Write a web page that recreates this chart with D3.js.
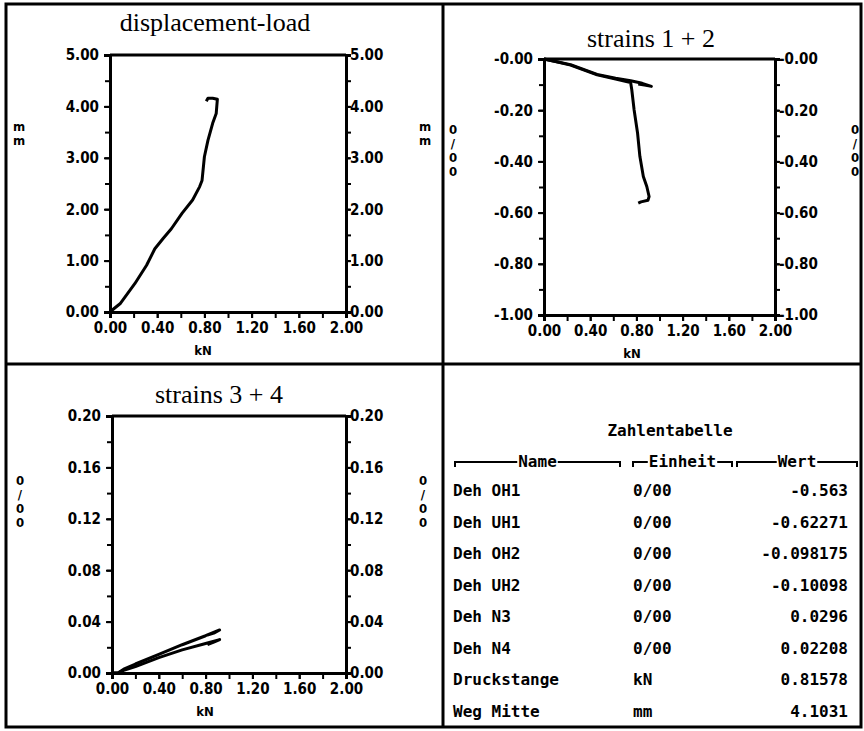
<!DOCTYPE html>
<html>
<head>
<meta charset="utf-8">
<script src="https://cdn.jsdelivr.net/npm/d3@7"></script>
<style>
  body { margin: 0; background: #fff; }
  svg { display: block; }
  .tick text { font-family: "DejaVu Sans Condensed", "DejaVu Sans", sans-serif; font-weight: bold; font-size: 15px; fill: #000; }
  .title { font-family: "Liberation Serif", "DejaVu Serif", serif; font-size: 26px; fill: #000; }
  .tbl { font-family: "DejaVu Sans Mono", monospace; font-weight: bold; font-size: 16px; fill: #000; }
  .unit { font-family: "DejaVu Sans Condensed", sans-serif; font-weight: bold; font-size: 13px; fill: #000; }
</style>
</head>
<body>
<script>
// displacement-load (kN -> mm)
var dispLoad = [0, 0.014, 0.085, 0.21, 0.31, 0.38, 0.45, 0.52, 0.61, 0.70, 0.76, 0.78, 0.80, 0.83, 0.87, 0.90, 0.91, 0.87, 0.83, 0.816];
var dispMM   = [0, 0.03, 0.16, 0.55, 0.91, 1.23, 1.43, 1.62, 1.92, 2.18, 2.44, 2.56, 3.02, 3.34, 3.67, 3.86, 4.14, 4.16, 4.16, 4.10];

// strains 1 + 2 (kN -> 0/00)
var s1Load = [0, 0.10, 0.23, 0.46, 0.62, 0.75, 0.76, 0.78, 0.81, 0.83, 0.86, 0.89, 0.91, 0.90, 0.84, 0.816];
var strainOH1 = [0, -0.010, -0.024, -0.062, -0.078, -0.092, -0.12, -0.198, -0.289, -0.38, -0.459, -0.498, -0.537, -0.552, -0.558, -0.563];
var s2Load = [0, 0.10, 0.23, 0.46, 0.62, 0.75, 0.85, 0.93, 0.87, 0.816];
var strainOH2 = [0, -0.010, -0.022, -0.060, -0.075, -0.085, -0.095, -0.107, -0.102, -0.098];

// strains 3 + 4 (kN -> 0/00)
var s34Load = [0, 0.05, 0.10, 0.20, 0.40, 0.60, 0.80, 0.92, 0.87, 0.816];
var strainN3 = [0, 0.000, 0.003, 0.007, 0.0145, 0.022, 0.029, 0.0335, 0.031, 0.0296];
var strainN4 = [0, 0.000, 0.002, 0.005, 0.012, 0.018, 0.023, 0.026, 0.024, 0.0221];

// axis ticks
var xTicks = [0, 0.4, 0.8, 1.2, 1.6, 2.0];
var xTickLabels = ["0.00", "0.40", "0.80", "1.20", "1.60", "2.00"];
var dispTicks = [0, 1, 2, 3, 4, 5];
var dispTickLabels = ["0.00", "1.00", "2.00", "3.00", "4.00", "5.00"];
var s12Ticks = [0, -0.2, -0.4, -0.6, -0.8, -1.0];
var s12TickLabels = ["-0.00", "-0.20", "-0.40", "-0.60", "-0.80", "-1.00"];
var s34Ticks = [0, 0.04, 0.08, 0.12, 0.16, 0.20];
var s34TickLabels = ["0.00", "0.04", "0.08", "0.12", "0.16", "0.20"];

// table
var tblNames  = ["Deh OH1", "Deh UH1", "Deh OH2", "Deh UH2", "Deh N3", "Deh N4", "Druckstange", "Weg Mitte"];
var tblUnits  = ["0/00", "0/00", "0/00", "0/00", "0/00", "0/00", "kN", "mm"];
var tblValues = ["-0.563", "-0.62271", "-0.098175", "-0.10098", "0.0296", "0.02208", "0.81578", "4.1031"];

var W = 864, H = 731;
var svg = d3.select("body").append("svg")
  .attr("width", W)
  .attr("height", H);

// outer frame + dividers
svg.append("rect")
  .attr("x", 6).attr("y", 4).attr("width", 855).attr("height", 723)
  .attr("fill", "none").attr("stroke", "#000").attr("stroke-width", 3);
svg.append("line").attr("x1", 443).attr("x2", 443).attr("y1", 4).attr("y2", 727)
  .attr("stroke", "#000").attr("stroke-width", 3);
svg.append("line").attr("x1", 6).attr("x2", 861).attr("y1", 364).attr("y2", 364)
  .attr("stroke", "#000").attr("stroke-width", 3);

function drawPanel(p) {
  var x = d3.scaleLinear().domain([0, 2]).range([p.x0, p.x1]);
  var y = d3.scaleLinear().domain(p.yDomain).range([p.y1, p.y0]);
  var g = svg.append("g");

  // minor ticks
  var xMinor = d3.range(0, 2.0001, 0.2);
  var yMinor = d3.range(0, 11).map(function(i) { return p.yDomain[0] + i * (p.yDomain[1] - p.yDomain[0]) / 10; });

  g.append("g").attr("transform", "translate(0," + p.y1 + ")")
    .call(d3.axisBottom(x).tickValues(xMinor).tickSize(6).tickFormat(""));
  g.append("g").attr("transform", "translate(" + p.x0 + ",0)")
    .call(d3.axisLeft(y).tickValues(yMinor).tickSize(5).tickFormat(""));
  g.append("g").attr("transform", "translate(" + p.x1 + ",0)")
    .call(d3.axisRight(y).tickValues(yMinor).tickSize(5).tickFormat(""));

  // labelled axes
  g.append("g").attr("transform", "translate(0," + p.y1 + ")")
    .call(d3.axisBottom(x).tickValues(xTicks).tickSize(6).tickPadding(4)
      .tickFormat(function(d, i) { return xTickLabels[i]; }));
  g.append("g").attr("transform", "translate(" + p.x0 + ",0)")
    .call(d3.axisLeft(y).tickValues(p.yTicks).tickSize(6).tickPadding(5)
      .tickFormat(function(d, i) { return p.yLabels[i]; }));
  g.append("g").attr("transform", "translate(" + p.x1 + ",0)")
    .call(d3.axisRight(y).tickValues(p.yTicks).tickSize(4).tickPadding(0)
      .tickFormat(function(d, i) { return p.yLabels[i]; }));

  g.selectAll(".domain").attr("stroke-width", 3);
  g.selectAll(".tick line").attr("stroke-width", 2);

  // top frame line
  g.append("line").attr("x1", p.x0).attr("x2", p.x1).attr("y1", p.y0).attr("y2", p.y0)
    .attr("stroke", "#000").attr("stroke-width", 3);

  // curves
  var line = d3.line().x(function(d) { return x(d[0]); }).y(function(d) { return y(d[1]); });
  p.series.forEach(function(s) {
    g.append("path")
      .datum(d3.zip(s.load, s.vals))
      .attr("d", line)
      .attr("fill", "none")
      .attr("stroke", "#000")
      .attr("stroke-width", 3)
      .attr("stroke-linejoin", "round");
  });

  // title
  g.append("text").attr("class", "title")
    .attr("x", p.titleX).attr("y", p.titleY)
    .attr("text-anchor", "middle")
    .text(p.title);

  // x unit
  g.append("text").attr("class", "unit")
    .attr("x", p.kNX).attr("y", p.y1 + 43)
    .attr("text-anchor", "middle")
    .text("kN");

  // vertical unit labels, stacked characters
  [p.unitLX, p.unitRX].forEach(function(ux) {
    var chars = p.unit.split("");
    var t = g.append("text").attr("class", "unit").attr("text-anchor", "middle");
    chars.forEach(function(c, i) {
      t.append("tspan").attr("x", ux).attr("y", p.unitY + i * 14).text(c);
    });
  });
}

drawPanel({
  x0: 110, x1: 346, y0: 55, y1: 312,
  yDomain: [0, 5], yTicks: dispTicks, yLabels: dispTickLabels,
  series: [{ load: dispLoad, vals: dispMM }],
  title: "displacement-load", titleX: 215, titleY: 31,
  kNX: 203, unit: "mm", unitLX: 19, unitRX: 425, unitY: 131
});

drawPanel({
  x0: 544, x1: 775, y0: 59, y1: 315,
  yDomain: [-1, 0], yTicks: s12Ticks, yLabels: s12TickLabels,
  series: [{ load: s1Load, vals: strainOH1 }, { load: s2Load, vals: strainOH2 }],
  title: "strains 1 + 2", titleX: 651, titleY: 47,
  kNX: 632, unit: "0/00", unitLX: 453, unitRX: 855, unitY: 134
});

drawPanel({
  x0: 112, x1: 346, y0: 416, y1: 673,
  yDomain: [0, 0.2], yTicks: s34Ticks, yLabels: s34TickLabels,
  series: [{ load: s34Load, vals: strainN3 }, { load: s34Load, vals: strainN4 }],
  title: "strains 3 + 4", titleX: 219, titleY: 403,
  kNX: 205, unit: "0/00", unitLX: 20, unitRX: 423, unitY: 485
});

// table panel
var tbl = svg.append("g");
tbl.append("text").attr("class", "tbl")
  .attr("x", 670).attr("y", 436).attr("text-anchor", "middle")
  .text("Zahlentabelle");

var headers = [
  { label: "Name", x0: 455, x1: 620 },
  { label: "Einheit", x0: 633, x1: 732 },
  { label: "Wert", x0: 737, x1: 857 }
];
headers.forEach(function(h) {
  var cx = (h.x0 + h.x1) / 2, hy = 462;
  var t = tbl.append("text").attr("class", "tbl")
    .attr("x", cx).attr("y", hy + 5).attr("text-anchor", "middle")
    .text(h.label);
  var tw = t.node().getComputedTextLength() / 2 + 1;
  tbl.append("path")
    .attr("d", "M" + h.x0 + "," + (hy + 5) + "V" + hy + "H" + (cx - tw) +
               "M" + (cx + tw) + "," + hy + "H" + h.x1 + "V" + (hy + 5))
    .attr("fill", "none").attr("stroke", "#000").attr("stroke-width", 2);
});

var rowY = d3.scalePoint().domain(d3.range(tblNames.length)).range([496, 717]);
tblNames.forEach(function(n, i) {
  tbl.append("text").attr("class", "tbl").attr("x", 453).attr("y", rowY(i)).text(n);
  tbl.append("text").attr("class", "tbl").attr("x", 633).attr("y", rowY(i)).text(tblUnits[i]);
  tbl.append("text").attr("class", "tbl").attr("x", 848).attr("y", rowY(i))
    .attr("text-anchor", "end").text(tblValues[i]);
});
</script>
</body>
</html>
